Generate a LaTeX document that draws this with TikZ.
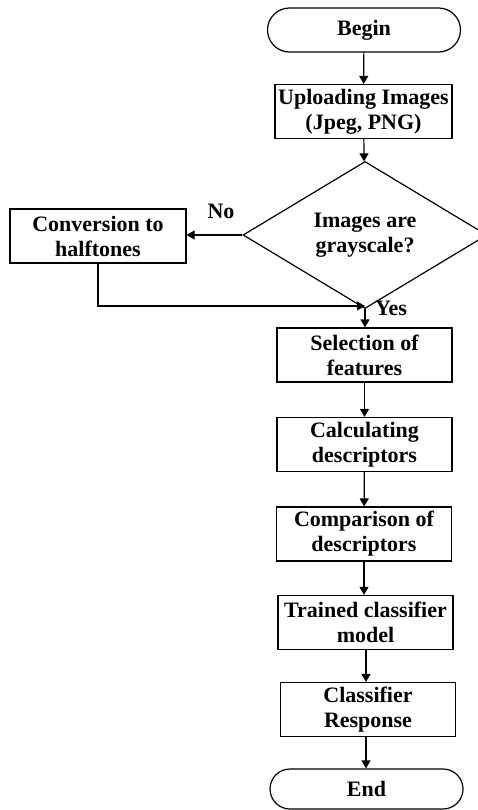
\documentclass[tikz,border=0pt]{standalone}
\usepackage{fontspec}
\setmainfont{Liberation Serif}
\usetikzlibrary{shapes.geometric,shapes.misc,arrows.meta}
\begin{document}
\begin{tikzpicture}[x=1pt,y=-1pt,line width=1.2pt,
  font=\fontsize{22}{25}\selectfont\bfseries,
  procbox/.style={draw,rectangle,align=center,inner sep=0pt,
    minimum width=175pt,minimum height=54pt},
  termbox/.style={draw,rounded rectangle,inner sep=0pt,
    minimum width=193pt,minimum height=44pt},
  decbox/.style={draw,diamond,align=center,inner sep=0pt,
    minimum width=244pt,minimum height=120pt},
  flow/.style={-{Triangle[length=8pt,width=9pt]}}]
 \clip (0,0) rectangle (478,810);
 \node[termbox] (begin) at (364,30) {Begin};
 \node[procbox,minimum width=177pt] (upload) at (363.5,111.5)
   {Uploading Images\\(Jpeg, PNG)};
 \node[decbox] (gray) at (365,235) {Images are\\grayscale?};
 \node[procbox,minimum width=176pt] (halftone) at (98,236)
   {Conversion to\\halftones};
 \node[procbox] (select) at (364.5,355) {Selection of\\features};
 \node[procbox] (calc) at (364.5,444.5) {Calculating\\descriptors};
 \node[procbox] (compare) at (364,534) {Comparison of\\descriptors};
 \node[procbox] (trained) at (365.5,622.5) {Trained classifier\\model};
 \node[procbox] (response) at (368,709.5) {Classifier\\Response};
 \node[termbox,minimum height=40pt] (end) at (366.5,789) {End};
 \coordinate (join) at (365,306);
 \node (no) at (221,211) {No};
 \node (yes) at (391,308) {Yes};
 \draw[flow] (begin) -- (upload);
 \draw[flow] (upload) -- (gray);
 \draw[flow] (gray.west) -- (halftone.east |- gray.west);
 \draw[flow] (gray.south) -- (select.north -| gray.south);
 \draw[flow] (halftone.south) |- (join);
 \draw[flow] (select.south -| calc.north) -- (calc.north);
 \draw[flow] (calc) -- (compare);
 \draw[flow] (compare.south) -- (trained.north -| compare.south);
 \draw[flow] (trained.south -| 366,0) -- (response.north -| 366,0);
 \draw[flow] (response.south -| 366,0) -- (end.north -| 366,0);
\end{tikzpicture}
\end{document}
